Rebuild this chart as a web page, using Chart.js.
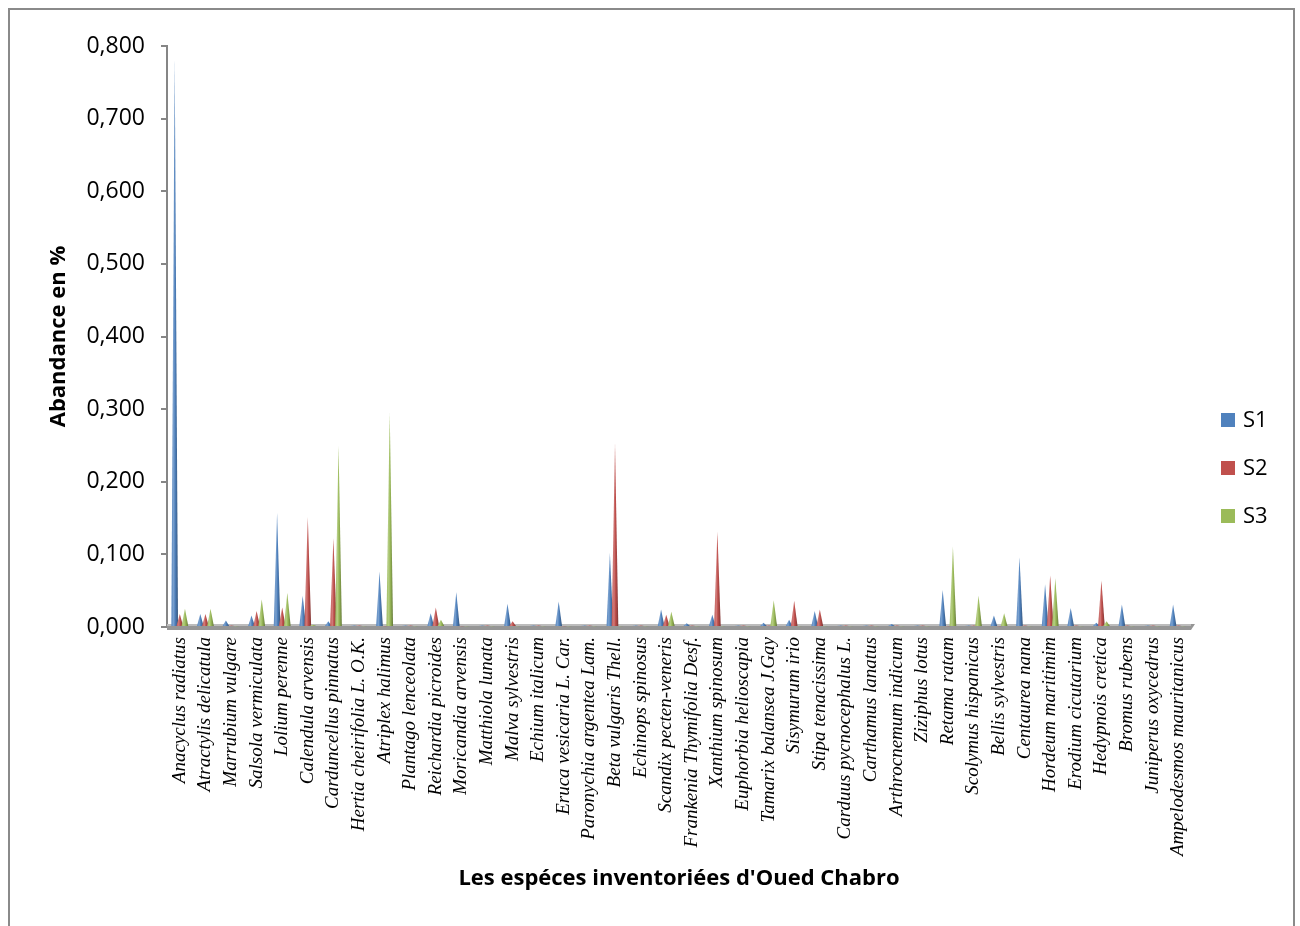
<!DOCTYPE html>
<html lang="fr">
<head>
<meta charset="utf-8">
<title>Abandance des espèces - Oued Chabro</title>
<script src="https://cdn.jsdelivr.net/npm/chart.js@4.4.1/dist/chart.umd.min.js"></script>
<style>
  html, body { margin: 0; padding: 0; background: #ffffff; overflow: hidden; }
  #frame {
    position: absolute; left: 8px; top: 8px;
    width: 1283px; height: 940px;
    border: 2px solid #8a8a8a; background: #ffffff;
  }
  #chart { display: block; }
</style>
</head>
<body>
<div id="frame"><canvas id="chart" width="1283" height="916"></canvas></div>
<script>
// Species sampled along Oued Chabro
const species = [
  'Anacyclus radiatus', 'Atractylis delicatula', 'Marrubium vulgare', 'Salsola vermiculata',
  'Lolium perenne', 'Calendula arvensis', 'Carduncellus pinnatus', 'Hertia cheirifolia L. O.K.',
  'Atriplex halimus', 'Plantago lenceolata', 'Reichardia picroides', 'Moricandia arvensis',
  'Matthiola lunata', 'Malva sylvestris', 'Echium italicum', 'Eruca vesicaria L. Car.',
  'Paronychia argentea Lam.', 'Beta vulgaris Thell.', 'Echinops spinosus', 'Scandix pecten-veneris',
  'Frankenia Thymifolia Desf.', 'Xanthium spinosum', 'Euphorbia helioscapia', 'Tamarix balansea J.Gay',
  'Sisymurum irio', 'Stipa tenacissima', 'Carduus pycnocephalus L.', 'Carthamus lanatus',
  'Arthrocnemum indicum', 'Ziziphus lotus', 'Retama ratam', 'Scolymus hispanicus',
  'Bellis sylvestris', 'Centaurea nana', 'Hordeum maritimim', 'Erodium cicutarium',
  'Hedypnois cretica', 'Bromus rubens', 'Juniperus oxycedrus', 'Ampelodesmos mauritanicus'
];

// Abundance (%) per station
const s1 = [0.785, 0.018, 0.009, 0.016, 0.157, 0.043, 0.008, 0.002, 0.076, 0.002,
            0.019, 0.048, 0.002, 0.032, 0.002, 0.035, 0.002, 0.102, 0.002, 0.024,
            0.005, 0.017, 0.002, 0.006, 0.010, 0.022, 0.002, 0.002, 0.004, 0.002,
            0.051, 0.002, 0.016, 0.096, 0.059, 0.026, 0.006, 0.031, 0.002, 0.031];
const s2 = [0.018, 0.018, 0.002, 0.022, 0.027, 0.152, 0.122, 0.002, 0.001, 0.002,
            0.027, 0.001, 0.002, 0.008, 0.002, 0.001, 0.002, 0.253, 0.002, 0.017,
            0.002, 0.131, 0.002, 0.002, 0.036, 0.024, 0.002, 0.002, 0.002, 0.002,
            0.001, 0.002, 0.001, 0.002, 0.071, 0.002, 0.064, 0.002, 0.002, 0.002];
const s3 = [0.025, 0.025, 0.001, 0.038, 0.047, 0.003, 0.250, 0.001, 0.295, 0.001,
            0.010, 0.001, 0.001, 0.001, 0.001, 0.001, 0.001, 0.001, 0.001, 0.021,
            0.001, 0.001, 0.001, 0.037, 0.001, 0.001, 0.001, 0.001, 0.001, 0.001,
            0.111, 0.043, 0.019, 0.001, 0.067, 0.001, 0.008, 0.001, 0.001, 0.001];

const seriesNames = ['S1', 'S2', 'S3'];
const seriesColors = ['#4F81BD', '#C0504D', '#9BBB59'];

function shade(hex, amt) {
  const n = parseInt(hex.slice(1), 16);
  let r = (n >> 16) & 255, g = (n >> 8) & 255, b = n & 255;
  const f = c => Math.max(0, Math.min(255, Math.round(amt >= 0 ? c + (255 - c) * amt : c * (1 + amt))));
  return 'rgb(' + f(r) + ',' + f(g) + ',' + f(b) + ')';
}

// Draws each bar as a shaded cone seen from the front (a narrow triangle)
const conePlugin = {
  id: 'cones',
  beforeDatasetsDraw(chart) {
    const ctx = chart.ctx;
    ctx.save();
    chart.data.datasets.forEach((ds, di) => {
      const meta = chart.getDatasetMeta(di);
      if (meta.hidden) return;
      const base = ds.backgroundColor;
      meta.data.forEach(el => {
        const p = el.getProps(['x', 'y', 'base', 'width'], true);
        const half = p.width * 0.65;
        const g = ctx.createLinearGradient(p.x - half, 0, p.x + half, 0);
        g.addColorStop(0, shade(base, 0.05));
        g.addColorStop(0.35, shade(base, 0.25));
        g.addColorStop(0.55, base);
        g.addColorStop(1, shade(base, -0.35));
        ctx.fillStyle = g;
        ctx.beginPath();
        ctx.moveTo(p.x - half, p.base);
        ctx.lineTo(p.x, p.y);
        ctx.lineTo(p.x + half, p.base);
        ctx.closePath();
        ctx.fill();
      });
    });
    ctx.restore();
    return false;
  }
};

// Right-hand legend with square swatches
const sideLegend = {
  id: 'sideLegend',
  afterDraw(chart) {
    const ctx = chart.ctx;
    const x = chart.chartArea.right + 30;
    const yc = [410, 458, 506];
    ctx.save();
    ctx.font = '22px "Open Sans"';
    ctx.textBaseline = 'middle';
    ctx.textAlign = 'left';
    chart.data.datasets.forEach((ds, i) => {
      ctx.fillStyle = ds.backgroundColor;
      ctx.fillRect(x, yc[i] - 7, 14, 14);
      ctx.fillStyle = '#000000';
      ctx.fillText(ds.label, x + 22, yc[i] + 1);
    });
    ctx.restore();
  }
};

// Grey floor under the cones, with a slanted right end
const floorPlugin = {
  id: 'floor',
  beforeDatasetsDraw(chart) {
    const {left, right, bottom} = chart.chartArea;
    const ctx = chart.ctx;
    ctx.save();
    ctx.fillStyle = '#969696';
    ctx.beginPath();
    ctx.moveTo(left, bottom - 3);
    ctx.lineTo(right + 4, bottom - 3);
    ctx.lineTo(right, bottom + 3);
    ctx.lineTo(left, bottom + 3);
    ctx.closePath();
    ctx.fill();
    ctx.fillStyle = '#bcbcbc';
    ctx.fillRect(left, bottom - 3, right - left, 2);
    ctx.restore();
  }
};

const datasets = [s1, s2, s3].map((vals, i) => ({
  label: seriesNames[i],
  data: vals,
  backgroundColor: seriesColors[i],
  categoryPercentage: 0.6,
  barPercentage: 1.0
}));

new Chart(document.getElementById('chart'), {
  type: 'bar',
  data: { labels: species, datasets },
  plugins: [floorPlugin, conePlugin, sideLegend],
  options: {
    responsive: false,
    animation: false,
    layout: { padding: { left: 20, right: 102, top: 36, bottom: 30 } },
    plugins: {
      legend: { display: false },
      tooltip: { enabled: false }
    },
    scales: {
      x: {
        offset: true,
        grid: { display: false, drawTicks: false },
        border: { display: false },
        ticks: {
          autoSkip: false,
          maxRotation: 90,
          minRotation: 90,
          padding: 10,
          color: '#000000',
          font: { family: '"Liberation Serif", "Times New Roman", serif', style: 'italic', size: 19 }
        },
        title: {
          display: true,
          text: "Les espéces inventoriées d'Oued Chabro",
          color: '#000000',
          font: { family: '"Open Sans", sans-serif', weight: 'bold', size: 22 },
          padding: { top: 0, bottom: 4 }
        },
        afterFit(scale) { scale.height = 269; }
      },
      y: {
        min: 0,
        max: 0.8,
        grid: {
          drawOnChartArea: false,
          drawTicks: true,
          tickLength: 6,
          color: '#868686',
          lineWidth: 2
        },
        border: { display: true, color: '#868686', width: 2 },
        ticks: {
          stepSize: 0.1,
          padding: 16,
          color: '#000000',
          font: { family: '"Open Sans", sans-serif', size: 23 },
          callback: v => v.toFixed(3).replace('.', ',')
        },
        title: {
          display: true,
          text: 'Abandance en %',
          color: '#000000',
          font: { family: '"Open Sans", sans-serif', weight: 'bold', size: 22 },
          padding: { top: 16, bottom: 0 }
        },
        afterFit(scale) { scale.width = 137; }
      }
    }
  }
});
</script>
</body>
</html>
